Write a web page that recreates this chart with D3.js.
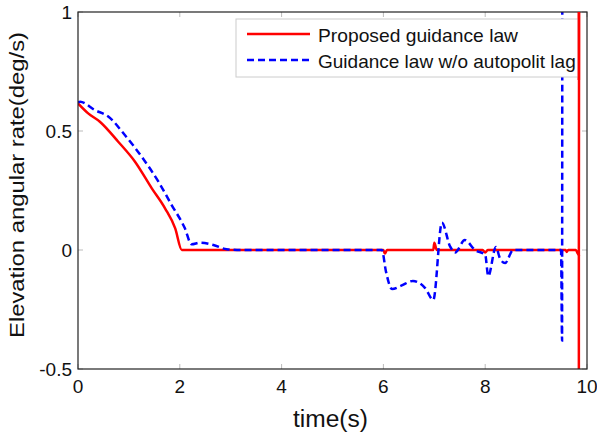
<!DOCTYPE html>
<html>
<head>
<meta charset="utf-8">
<script src="https://cdn.jsdelivr.net/npm/d3@7"></script>
<style>
  body { margin: 0; background: #fff; }
  svg { display: block; }
  text { font-family: "Liberation Sans", Arial, sans-serif; fill: #111; }
</style>
</head>
<body>
<svg id="chart" width="597" height="437"></svg>
<script>
// ---- data ----
const xTicks = [0, 2, 4, 6, 8, 10];
const yTicks = [-0.5, 0, 0.5, 1];
const yTickLabels = ["-0.5", "0", "0.5", "1"];
const seriesNames = ["Proposed guidance law", "Guidance law w/o autopolit lag"];

const proposedT = [0, 0.2, 0.43, 0.79, 1.12, 1.45, 1.71, 1.91, 2.04, 6.0, 6.03, 6.07, 6.98, 7.0, 7.05, 7.95, 8.0, 8.05, 9.58, 9.6, 9.63, 9.78, 9.82, 9.84, 9.845];
const proposedV = [0.616, 0.574, 0.539, 0.455, 0.371, 0.259, 0.175, 0.091, 0, 0, -0.015, 0, 0, 0.03, 0, 0, -0.01, 0, 0, -0.008, 0, 0, -0.015, -0.02, 1.2];
const proposedTail = [[9.84, -0.02], [9.84, -0.7]];

const noLagT = [0, 0.04, 0.33, 0.6, 0.92, 1.25, 1.58, 1.84, 2.1, 2.23, 2.4, 2.66, 2.92, 3.2, 5.97, 6.05, 6.17, 6.35, 6.58, 6.82, 6.98, 7.15, 7.31, 7.41, 7.6, 7.8, 8.0, 8.06, 8.21, 8.29, 8.39, 8.55, 9.49, 9.51, 9.515];
const noLagV = [0.62, 0.623, 0.588, 0.56, 0.483, 0.392, 0.287, 0.189, 0.091, 0.024, 0.031, 0.021, 0.003, 0, 0, -0.09, -0.164, -0.15, -0.13, -0.16, -0.21, 0.115, 0.015, -0.01, 0.042, 0.0, -0.02, -0.11, 0.013, -0.035, -0.055, 0, 0, -0.38, 1.2];

// ---- layout ----
const svg = d3.select("#chart");
const L = 78, R = 587, T = 12, B = 369;
const x = d3.scaleLinear().domain([0, 10]).range([L, R]);
const y = d3.scaleLinear().domain([-0.5, 1]).range([B, T]);

svg.append("defs").append("clipPath").attr("id", "clip")
  .append("rect").attr("x", L).attr("y", T).attr("width", R - L).attr("height", B - T);

// ticks (inward, MATLAB style)
const tickLen = 5;
const gx = svg.append("g");
xTicks.forEach(t => {
  gx.append("line").attr("x1", x(t)).attr("x2", x(t)).attr("y1", B).attr("y2", B - tickLen).attr("stroke", "#bbb");
  gx.append("line").attr("x1", x(t)).attr("x2", x(t)).attr("y1", T).attr("y2", T + tickLen).attr("stroke", "#bbb");
  svg.append("text").attr("x", x(t)).attr("y", B + 24).attr("text-anchor", "middle")
    .attr("font-size", 19).text(t);
});
yTicks.forEach((v, i) => {
  gx.append("line").attr("x1", L).attr("x2", L + tickLen).attr("y1", y(v)).attr("y2", y(v)).attr("stroke", "#bbb");
  gx.append("line").attr("x1", R).attr("x2", R - tickLen).attr("y1", y(v)).attr("y2", y(v)).attr("stroke", "#bbb");
  svg.append("text").attr("x", L - 6).attr("y", y(v) + 7).attr("text-anchor", "end")
    .attr("font-size", 19).text(yTickLabels[i]);
});

// lines
const line = d3.line().x(d => x(d[0])).y(d => y(d[1])).curve(d3.curveMonotoneX);
const straight = d3.line().x(d => x(d[0])).y(d => y(d[1]));
const plot = svg.append("g").attr("clip-path", "url(#clip)");
const noLag = noLagT.map((t, i) => [t, noLagV[i]]);
const proposed = proposedT.map((t, i) => [t, proposedV[i]]);

plot.append("path").datum(proposed).attr("d", line)
  .attr("fill", "none").attr("stroke", "#ff0000").attr("stroke-width", 2.5);
plot.append("path").datum(proposedTail).attr("d", straight)
  .attr("fill", "none").attr("stroke", "#ff0000").attr("stroke-width", 2.5);
plot.append("path").datum(noLag).attr("d", line)
  .attr("fill", "none").attr("stroke", "#0000ff").attr("stroke-width", 2.5)
  .attr("stroke-dasharray", "7,4");

// axis box
svg.append("rect").attr("x", L).attr("y", T).attr("width", R - L).attr("height", B - T)
  .attr("fill", "none").attr("stroke", "#222").attr("stroke-width", 1.2);

// legend
const lg = svg.append("g");
lg.append("rect").attr("x", 236).attr("y", 19).attr("width", 342).attr("height", 58)
  .attr("fill", "#fff").attr("stroke", "#ccc").attr("stroke-width", 1);
lg.append("line").attr("x1", 247).attr("x2", 310).attr("y1", 34).attr("y2", 34)
  .attr("stroke", "#ff0000").attr("stroke-width", 2.5);
lg.append("line").attr("x1", 247).attr("x2", 310).attr("y1", 60).attr("y2", 60)
  .attr("stroke", "#0000ff").attr("stroke-width", 2.5).attr("stroke-dasharray", "7,4");
lg.append("text").attr("x", 318).attr("y", 42).attr("font-size", 19)
  .attr("textLength", 200).attr("lengthAdjust", "spacingAndGlyphs").text(seriesNames[0]);
lg.append("text").attr("x", 318).attr("y", 68).attr("font-size", 19).text(seriesNames[1]);

// red vertical over legend edge
svg.append("g").attr("clip-path", "url(#clip)").append("line")
  .attr("x1", x(9.84)).attr("x2", x(9.84)).attr("y1", T).attr("y2", 80)
  .attr("stroke", "#ff0000").attr("stroke-width", 2.5);

// axis titles
svg.append("text").attr("x", 330.5).attr("y", 427).attr("text-anchor", "middle")
  .attr("font-size", 23).attr("textLength", 75).attr("lengthAdjust", "spacingAndGlyphs").text("time(s)");
svg.append("text").attr("transform", `translate(24,185) rotate(-90)`)
  .attr("text-anchor", "middle").attr("font-size", 20)
  .attr("textLength", 306).attr("lengthAdjust", "spacingAndGlyphs").text("Elevation angular rate(deg/s)");
</script>
</body>
</html>
